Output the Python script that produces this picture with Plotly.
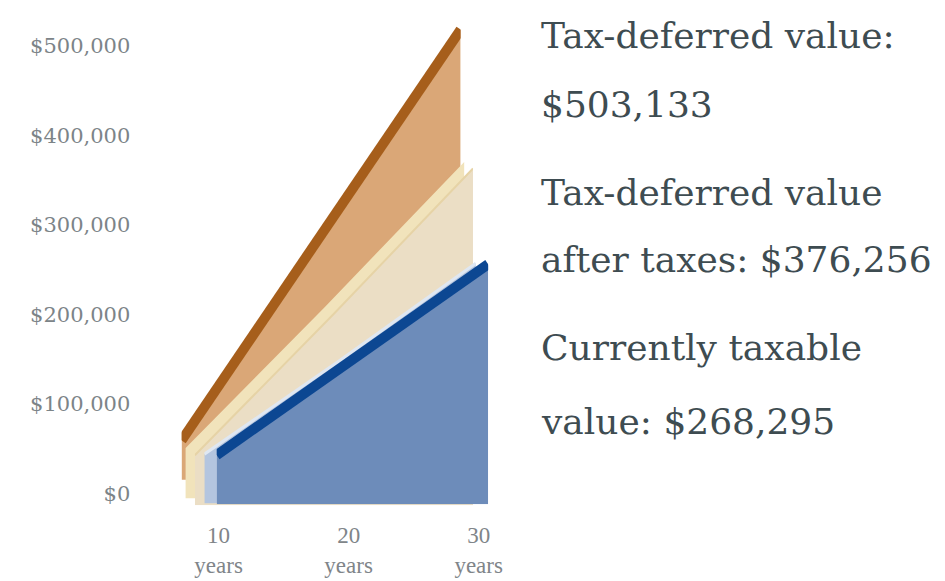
import plotly.graph_objects as go

# ---------------- data ----------------
years = [10, 20, 30]
year_labels = ["10<br>years", "20<br>years", "30<br>years"]
tax_deferred = [44000, 272000, 503133]
after_taxes = [56000, 214000, 376256]
taxable = [55000, 160000, 268295]
y_tick_values = [0, 100000, 200000, 300000, 400000, 500000]
y_tick_labels = ["$0", "$100,000", "$200,000", "$300,000", "$400,000", "$500,000"]
caption_lines = [
    "Tax-deferred value:", "$503,133",
    "Tax-deferred value", "after taxes: $376,256",
    "Currently taxable", "value: $268,295",
]

# ---------------- layout helpers ----------------
W, H = 945, 581
YMAX = 530000
PX_PER_UNIT = 0.914 / 1000.0
SPAN = YMAX * PX_PER_UNIT


def xdom(left_px, right_px):
    return [left_px / W, right_px / W]


def ydom(bottom_px):
    return [1 - bottom_px / H, 1 - (bottom_px - SPAN) / H]


fig = go.Figure()

# back series: tax-deferred (orange)
fig.add_trace(go.Scatter(x=years, y=tax_deferred, xaxis="x", yaxis="y",
                         mode="lines", fill="tozeroy", fillcolor="#daa777",
                         line=dict(color="#daa777", width=0), hoverinfo="skip"))
fig.add_trace(go.Scatter(x=years, y=tax_deferred, xaxis="x", yaxis="y",
                         mode="lines", line=dict(color="#a65e1b", width=10),
                         hoverinfo="skip"))
# middle series: after taxes (beige) - top face then front
fig.add_trace(go.Scatter(x=years, y=after_taxes, xaxis="x2", yaxis="y2",
                         mode="lines", fill="tozeroy", fillcolor="#f1e3bb",
                         line=dict(color="#f1e3bb", width=0), hoverinfo="skip"))
fig.add_trace(go.Scatter(x=years, y=after_taxes, xaxis="x3", yaxis="y3",
                         mode="lines", fill="tozeroy", fillcolor="#ebdec5",
                         line=dict(color="#e6d3a6", width=2), hoverinfo="skip"))
# front series: currently taxable (blue) - side face then front
fig.add_trace(go.Scatter(x=years, y=taxable, xaxis="x4", yaxis="y4",
                         mode="lines", fill="tozeroy", fillcolor="#b4c5df",
                         line=dict(color="#dfe7f2", width=3), hoverinfo="skip"))
fig.add_trace(go.Scatter(x=years, y=taxable, xaxis="x5", yaxis="y5",
                         mode="lines", fill="tozeroy", fillcolor="#6d8cba",
                         line=dict(color="#6d8cba", width=0), hoverinfo="skip"))
fig.add_trace(go.Scatter(x=years, y=taxable, xaxis="x5", yaxis="y5",
                         mode="lines", line=dict(color="#0c4792", width=10),
                         hoverinfo="skip"))
# axis carrier for tick labels
fig.add_trace(go.Scatter(x=[], y=[], xaxis="x6", yaxis="y6", mode="lines",
                         hoverinfo="skip"))

hidden_x = dict(range=[10, 30], visible=False, fixedrange=True)
hidden_y = dict(range=[0, YMAX], visible=False, fixedrange=True)

layout = dict(
    width=W, height=H,
    margin=dict(l=0, r=0, t=0, b=0),
    paper_bgcolor="white", plot_bgcolor="rgba(0,0,0,0)",
    showlegend=False,
    xaxis=dict(hidden_x, domain=xdom(166, 460), anchor="y"),
    yaxis=dict(hidden_y, domain=ydom(490), anchor="x"),
    xaxis2=dict(hidden_x, domain=xdom(170, 464), anchor="y2"),
    yaxis2=dict(hidden_y, domain=ydom(509), anchor="x2"),
    xaxis3=dict(hidden_x, domain=xdom(180, 473), anchor="y3"),
    yaxis3=dict(hidden_y, domain=ydom(516), anchor="x3"),
    xaxis4=dict(hidden_x, domain=xdom(190, 476), anchor="y4"),
    yaxis4=dict(hidden_y, domain=ydom(514), anchor="x4"),
    xaxis5=dict(hidden_x, domain=xdom(203, 489), anchor="y5"),
    yaxis5=dict(hidden_y, domain=ydom(515), anchor="x5"),
    xaxis6=dict(range=[10, 30], domain=xdom(205, 479), anchor="free",
                position=1 - 530 / H, showline=False, showgrid=False,
                zeroline=False, ticks="", tickmode="array", tickvals=years,
                ticktext=year_labels, fixedrange=True,
                tickfont=dict(family="Liberation Serif", size=23, color="#808589")),
    yaxis6=dict(range=[0, YMAX], domain=ydom(504), anchor="free",
                position=112 / W, showline=False, showgrid=False,
                zeroline=False, ticks="", tickmode="array",
                tickvals=y_tick_values, ticktext=y_tick_labels, fixedrange=True,
                tickfont=dict(family="DejaVu Serif", size=21, color="#7c8488")),
)
fig.update_layout(**layout)

line_y = [36, 107, 197, 265, 355, 430]
for txt, yp in zip(caption_lines, line_y):
    fig.add_annotation(text=txt, x=543 / W, y=1 - yp / H, xref="paper", yref="paper",
                       xanchor="left", yanchor="middle", showarrow=False,
                       font=dict(family="DejaVu Serif", size=36, color="#3e4c51"))

fig.write_html("out.html")
